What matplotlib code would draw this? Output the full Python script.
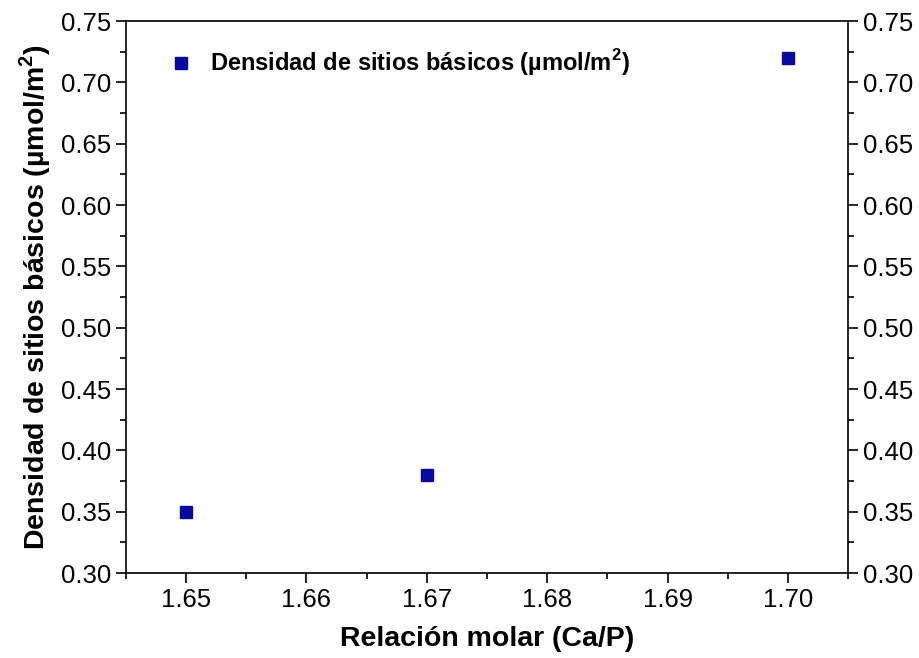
import matplotlib.pyplot as plt
from matplotlib.ticker import MultipleLocator

plt.rcParams['font.family'] = ['Liberation Sans', 'DejaVu Sans']
plt.rcParams['mathtext.fontset'] = 'custom'
plt.rcParams['mathtext.rm'] = 'Liberation Sans'
plt.rcParams['mathtext.bf'] = 'Liberation Sans:bold'

# datos
relacion_molar = [1.65, 1.67, 1.70]
densidad_basica = [0.35, 0.38, 0.72]
etiqueta = r'Densidad de sitios básicos (µmol/m$^\mathbf{2}$)'

fig = plt.figure(figsize=(9.19, 6.58), dpi=100)
ax = fig.add_axes([0.137, 0.129, 0.786, 0.839])

ax.plot(relacion_molar, densidad_basica, 's', color='#0a0a9a', markersize=9,
        linestyle='none', label=etiqueta)

ax.set_xlim(1.645, 1.705)
ax.set_ylim(0.30, 0.75)
ax.xaxis.set_major_locator(MultipleLocator(0.01))
ax.xaxis.set_minor_locator(MultipleLocator(0.005))
ax.yaxis.set_major_locator(MultipleLocator(0.05))
ax.yaxis.set_minor_locator(MultipleLocator(0.025))
ax.xaxis.set_major_formatter(plt.FormatStrFormatter('%.2f'))
ax.yaxis.set_major_formatter(plt.FormatStrFormatter('%.2f'))

for s in ax.spines.values():
    s.set_linewidth(1.2)

ax.tick_params(which='both', direction='out', width=1.2, labelsize=18.5,
               left=True, right=True, labelright=True, top=False)
ax.tick_params(which='major', length=7)
ax.tick_params(which='minor', length=4)

ax.set_xlabel('Relación molar (Ca/P)', fontsize=20.5, fontweight='bold', labelpad=10)
ax.set_ylabel(r'Densidad de sitios básicos (µmol/m$^\mathbf{2}$)', fontsize=20.5,
              fontweight='bold', labelpad=6)

ax.legend(loc='center left', frameon=False, prop={'weight': 'bold', 'size': 17},
          handlelength=1.0, handletextpad=0.73, borderpad=0, borderaxespad=0,
          bbox_to_anchor=(0.060, 0.924))

fig.savefig('out.png', dpi=100)
